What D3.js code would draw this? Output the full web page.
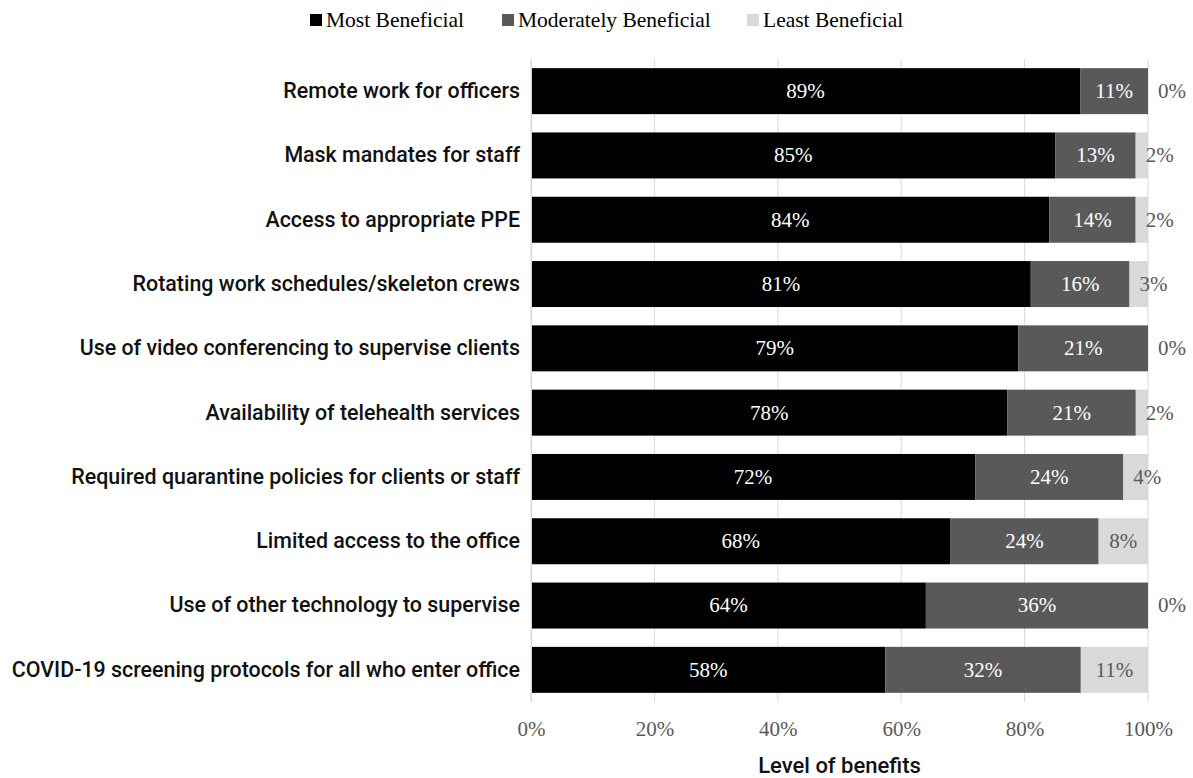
<!DOCTYPE html>
<html>
<head>
<meta charset="utf-8">
<script src="https://cdn.jsdelivr.net/npm/d3@7"></script>
<style>
  body { margin: 0; background: #fff; }
  svg { display: block; }
</style>
</head>
<body>
<svg id="chart" width="1193" height="778"></svg>
<script>
// Survey results: perceived benefit of COVID-19 response measures
const categories = [
  "Remote work for officers",
  "Mask mandates for staff",
  "Access to appropriate PPE",
  "Rotating work schedules/skeleton crews",
  "Use of video conferencing to supervise clients",
  "Availability of telehealth services",
  "Required quarantine policies for clients or staff",
  "Limited access to the office",
  "Use of other technology to supervise",
  "COVID-19 screening protocols for all who enter office"
];
const mostBeneficial       = [89, 85, 84, 81, 79, 78, 72, 68, 64, 58];
const moderatelyBeneficial = [11, 13, 14, 16, 21, 21, 24, 24, 36, 32];
const leastBeneficial      = [0, 2, 2, 3, 0, 2, 4, 8, 0, 11];
const seriesNames = ["Most Beneficial", "Moderately Beneficial", "Least Beneficial"];
const tickValues = [0, 0.2, 0.4, 0.6, 0.8, 1.0];
const axisTitle = "Level of benefits";

const colors = ["#000000", "#595959", "#d9d9d9"];
const labelColors = ["#ffffff", "#ffffff", "#595959"];
const serif = "'Liberation Serif', 'Times New Roman', serif";
const sans = "'Roboto', 'Liberation Sans', sans-serif";

const svg = d3.select("#chart");
const margin = { left: 531, right: 45, top: 59, bottom: 76 };
const W = 1193, H = 778;

const rows = categories.map((c, i) => ({
  category: c,
  most: mostBeneficial[i],
  moderate: moderatelyBeneficial[i],
  least: leastBeneficial[i]
}));
const keys = ["most", "moderate", "least"];

const stack = d3.stack().keys(keys).offset(d3.stackOffsetExpand);
const layers = stack(rows);

const x = d3.scaleLinear().domain([0, 1]).range([margin.left, W - margin.right]);
const y = d3.scaleBand().domain(categories).range([margin.top, H - margin.bottom]).paddingInner(0.285).paddingOuter(0.1425);

// vertical gridlines
svg.append("g")
  .selectAll("line")
  .data(tickValues)
  .join("line")
  .attr("x1", d => x(d)).attr("x2", d => x(d))
  .attr("y1", margin.top).attr("y2", H - margin.bottom)
  .attr("stroke", "#d9d9d9").attr("stroke-width", 1);

// bars
const layerG = svg.append("g")
  .selectAll("g")
  .data(layers)
  .join("g")
  .attr("fill", (d, i) => colors[i]);

layerG.selectAll("rect")
  .data(d => d)
  .join("rect")
  .attr("x", d => x(d[0]))
  .attr("y", d => y(d.data.category))
  .attr("width", d => Math.max(0, x(d[1]) - x(d[0])))
  .attr("height", y.bandwidth());

// value labels
layers.forEach((layer, li) => {
  svg.append("g")
    .selectAll("text")
    .data(layer)
    .join("text")
    .attr("x", d => {
      const v = d.data[keys[li]];
      if (li === 2 && v < 5) return x(d[0]) + 10;
      return (x(d[0]) + x(d[1])) / 2;
    })
    .attr("y", d => y(d.data.category) + y.bandwidth() / 2)
    .attr("dy", "0.33em")
    .attr("text-anchor", d => (li === 2 && d.data[keys[li]] < 5) ? "start" : "middle")
    .attr("fill", labelColors[li])
    .style("font-family", serif)
    .style("font-size", "21px")
    .text(d => d.data[keys[li]] + "%");
});

// category axis
const yAxis = svg.append("g")
  .attr("transform", `translate(${margin.left},0)`)
  .call(d3.axisLeft(y).tickSize(0).tickPadding(11));
yAxis.select(".domain").attr("stroke", "#d9d9d9");
yAxis.selectAll("text")
  .style("font-family", sans)
  .style("font-size", "21.4px")
  .style("font-weight", 500)
  .attr("fill", "#111");

// value axis
const xAxis = svg.append("g")
  .attr("transform", `translate(0,${H - margin.bottom})`)
  .call(d3.axisBottom(x).tickValues(tickValues).tickFormat(d3.format(".0%")).tickSize(0).tickPadding(19));
xAxis.select(".domain").remove();
xAxis.selectAll("text")
  .style("font-family", serif)
  .style("font-size", "21px")
  .attr("fill", "#595959");

svg.append("text")
  .attr("x", (x(0) + x(1)) / 2)
  .attr("y", 773)
  .attr("text-anchor", "middle")
  .style("font-family", sans)
  .style("font-size", "22px")
  .style("font-weight", 500)
  .attr("fill", "#111")
  .text(axisTitle);

// legend
const legendX = [310, 502, 747];
const legend = svg.append("g");
seriesNames.forEach((name, i) => {
  const g = legend.append("g").attr("transform", `translate(${legendX[i]},20)`);
  g.append("rect").attr("x", 0).attr("y", -6).attr("width", 12).attr("height", 12).attr("fill", colors[i]);
  g.append("text").attr("x", 16).attr("y", 0).attr("dy", "0.33em")
    .style("font-family", serif).style("font-size", "21.5px").attr("fill", "#000")
    .text(name);
});
</script>
</body>
</html>
